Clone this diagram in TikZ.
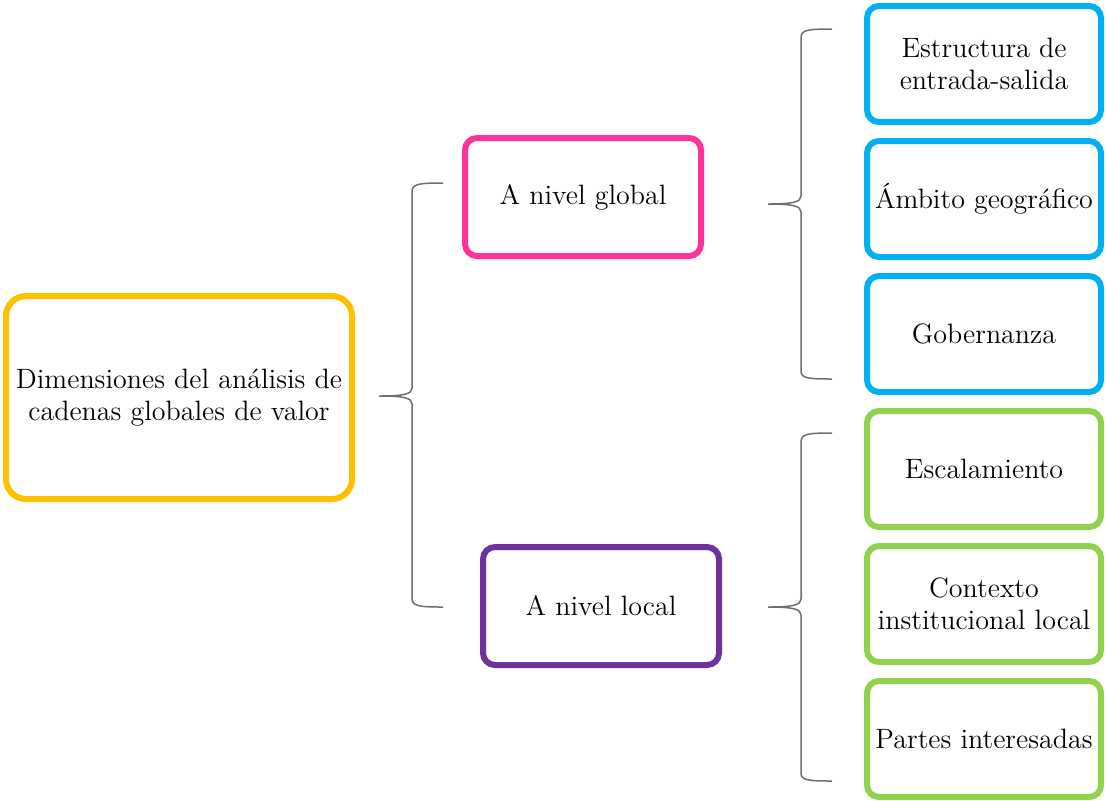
\documentclass[tikz,border=0pt]{standalone}
\usepackage{fontspec}
\definecolor{cyellow}{HTML}{FFC000}
\definecolor{cpink}{HTML}{FF3399}
\definecolor{cpurple}{HTML}{7030A0}
\definecolor{cblue}{HTML}{00B0F0}
\definecolor{cgreen}{HTML}{92D050}
\definecolor{bracegray}{HTML}{6E6E6E}
\begin{document}
\begin{tikzpicture}[x=0.5pt,y=-0.5pt,
  box/.style={draw, line width=3pt, rounded corners=6pt, inner sep=0pt, align=center,
    font=\fontsize{14}{16}\selectfont, fill=white},
  mid/.style={box, minimum width=118pt, minimum height=59pt},
  leaf/.style={box, minimum width=117pt, minimum height=58pt},
  bracel/.style={draw=bracegray, line width=0.75pt}]
\useasboundingbox (0,0) rectangle (1106,800);

\node[box, draw=cyellow, rounded corners=10pt, minimum width=173pt, minimum height=101.5pt]
  (dim) at (179,397.5) {Dimensiones del análisis de\\cadenas globales de valor};

\node[mid, draw=cpink] (global) at (583,197) {A nivel global};
\node[mid, draw=cpurple] (local) at (601,606) {A nivel local};

\node[leaf, draw=cblue] (es) at (984,64) {Estructura de\\entrada-salida};
\node[leaf, draw=cblue] (am) at (984,199) {Ámbito geográfico};
\node[leaf, draw=cblue] (go) at (984,334) {Gobernanza};
\node[leaf, draw=cgreen] (esc) at (984,469) {Escalamiento};
\node[leaf, draw=cgreen] (ctx) at (984,604) {Contexto\\institucional local};
\node[leaf, draw=cgreen] (pi) at (984,739) {Partes interesadas};

% brace 1
\path[bracel] (443,183) .. controls (418,183) and (412,184) .. (412,192)
  -- (412,388) .. controls (412,394) and (404,396) .. (379,396)
  .. controls (404,396) and (412,398) .. (412,404)
  -- (412,598) .. controls (412,606) and (418,607) .. (443,607);
% brace 2
\path[bracel] (832,29) .. controls (807,29) and (801,30) .. (801,38)
  -- (801,196) .. controls (801,202) and (793,204) .. (768,204)
  .. controls (793,204) and (801,206) .. (801,212)
  -- (801,371) .. controls (801,378) and (807,379) .. (832,379);
% brace 3
\path[bracel] (832,433) .. controls (807,433) and (801,434) .. (801,442)
  -- (801,599) .. controls (801,605) and (793,607) .. (768,607)
  .. controls (793,607) and (801,609) .. (801,615)
  -- (801,773) .. controls (801,780) and (807,781) .. (832,781);
\end{tikzpicture}
\end{document}
